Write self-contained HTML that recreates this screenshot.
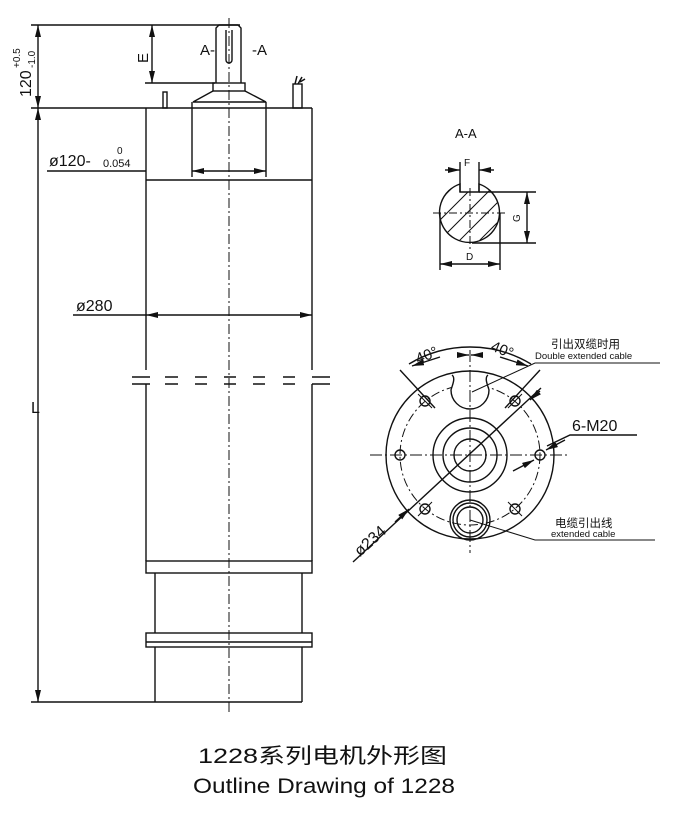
<!DOCTYPE html>
<html><head><meta charset="utf-8"><style>
html,body{margin:0;padding:0;background:#fff;}
svg{display:block;}
text{font-family:"Liberation Sans","Noto Sans CJK SC",sans-serif;fill:#111;}
</style></head><body>
<svg width="678" height="818" viewBox="0 0 678 818" xmlns="http://www.w3.org/2000/svg">
<defs>
<marker id="ar" markerWidth="12" markerHeight="6" refX="12" refY="3" orient="auto" markerUnits="userSpaceOnUse"><path d="M0,0 L12,3 L0,6 z" fill="#111"/></marker>
<marker id="as" markerWidth="12" markerHeight="6" refX="0" refY="3" orient="auto" markerUnits="userSpaceOnUse"><path d="M12,0 L0,3 L12,6 z" fill="#111"/></marker>
<clipPath id="cc"><path d="M460,184 A30,30 0 1,0 479,184 L479,192 L460,192 Z"/></clipPath>
</defs>
<g stroke="#111" stroke-width="1.4" fill="none">
<line x1="31" y1="25" x2="240" y2="25"/>
<line x1="31" y1="108" x2="146" y2="108"/>
<line x1="38" y1="25" x2="38" y2="108" marker-start="url(#as)" marker-end="url(#ar)"/>
<line x1="38" y1="108" x2="38" y2="702" marker-start="url(#as)" marker-end="url(#ar)"/>
<line x1="31" y1="702" x2="302" y2="702"/>
<line x1="145" y1="83" x2="215" y2="83"/>
<line x1="152" y1="25" x2="152" y2="83" marker-start="url(#as)" marker-end="url(#ar)"/>
<path d="M216,83 L216,28 L219,25 L238,25 L241,28 L241,83"/>
<path d="M226,30 L226,60 M232,30 L232,60 M226,60 A3,3 0 0,0 232,60"/>
<rect x="213" y="83" width="32" height="8"/>
<path d="M213,91 L193,102 L266,102 L245,91"/>
<line x1="192" y1="102" x2="192" y2="177"/>
<line x1="266" y1="102" x2="266" y2="177"/>
<line x1="47" y1="171" x2="146" y2="171"/>
<line x1="192" y1="171" x2="266" y2="171" marker-start="url(#as)" marker-end="url(#ar)"/>
<rect x="163" y="92" width="4" height="16"/>
<rect x="293" y="84" width="9" height="24"/>
<path d="M295,84 L297,76 M298,84 L302,77 M300,82 L305,79" stroke-width="1.5"/>
<line x1="146" y1="108" x2="312" y2="108"/>
<line x1="146" y1="180" x2="312" y2="180"/>
<line x1="146" y1="108" x2="146" y2="370"/>
<line x1="312" y1="108" x2="312" y2="370"/>
<line x1="146" y1="384" x2="146" y2="561"/>
<line x1="312" y1="384" x2="312" y2="561"/>
<line x1="73" y1="315" x2="146" y2="315"/>
<line x1="146" y1="315" x2="312" y2="315" marker-start="url(#as)" marker-end="url(#ar)"/>
<path d="M132,377 H150 M132,384 H150 M165,377 H178 M165,384 H178 M195,377 H207 M195,384 H207 M224,377 H236 M224,384 H236 M253,377 H265 M253,384 H265 M283,377 H295 M283,384 H295 M312,377 H330 M312,384 H330"/>
<rect x="146" y="561" width="166" height="12"/>
<line x1="155" y1="573" x2="155" y2="633"/>
<line x1="302" y1="573" x2="302" y2="633"/>
<rect x="146" y="633" width="166" height="14"/>
<line x1="146" y1="642" x2="312" y2="642"/>
<line x1="155" y1="647" x2="155" y2="702"/>
<line x1="302" y1="647" x2="302" y2="702"/>
<line x1="229" y1="18" x2="229" y2="715" stroke-dasharray="10,3,2,3" stroke-width="1"/>

<path d="M460,184 A30,30 0 1,0 479,184 L479,192 L460,192 Z"/>
<g clip-path="url(#cc)" stroke-width="1">
<path d="M420,240 L480,180 M430,250 L490,190 M440,260 L500,200 M450,270 L510,210 M460,280 L520,220 M410,230 L470,170 M400,220 L460,160"/>
</g>
<line x1="433" y1="213" x2="507" y2="213" stroke-dasharray="8,3,2,3" stroke-width="1"/>
<line x1="470" y1="188" x2="470" y2="250" stroke-dasharray="8,3,2,3" stroke-width="1"/>
<line x1="460" y1="162" x2="460" y2="192"/>
<line x1="479" y1="162" x2="479" y2="192"/>
<line x1="445" y1="170" x2="460" y2="170" marker-end="url(#ar)"/>
<line x1="494" y1="170" x2="479" y2="170" marker-end="url(#ar)"/>
<line x1="479" y1="192" x2="536" y2="192"/>
<line x1="472" y1="243" x2="536" y2="243"/>
<line x1="527" y1="192" x2="527" y2="243" marker-start="url(#as)" marker-end="url(#ar)"/>
<line x1="440" y1="213" x2="440" y2="270"/>
<line x1="500" y1="213" x2="500" y2="270"/>
<line x1="440" y1="264" x2="500" y2="264" marker-start="url(#as)" marker-end="url(#ar)"/>

<circle cx="470" cy="455" r="84"/>
<circle cx="470" cy="455" r="70" stroke-dasharray="9,3,2,3" stroke-width="1"/>
<circle cx="470" cy="455" r="37"/>
<circle cx="470" cy="455" r="27"/>
<circle cx="470" cy="455" r="16"/>
<path d="M452,375 C456,378 452,386 451,390 A19,19 0 0,0 489,390 C488,386 484,378 488,375" fill="#fff"/>
<circle cx="470" cy="520" r="20"/>
<circle cx="470" cy="520" r="17"/>
<circle cx="470" cy="520" r="13"/>
<line x1="370" y1="455" x2="570" y2="455" stroke-dasharray="12,3,2,3" stroke-width="1"/>
<line x1="470" y1="350" x2="470" y2="553" stroke-dasharray="12,3,2,3" stroke-width="1"/>
<circle cx="400" cy="455" r="5"/>
<circle cx="540" cy="455" r="5"/>
<circle cx="425" cy="401" r="5"/>
<circle cx="515" cy="401" r="5"/>
<circle cx="425" cy="509" r="5"/>
<circle cx="515" cy="509" r="5"/>
<path d="M418,394 L432,408 M508,408 L522,394 M418,516 L432,502 M508,502 L522,516" stroke-width="1"/>
<path d="M409,364 A118,118 0 0,1 531,364"/>
<line x1="400" y1="370" x2="435" y2="408"/>
<line x1="540" y1="370" x2="505" y2="408"/>
<line x1="440" y1="357" x2="412" y2="366" marker-end="url(#ar)"/>
<line x1="500" y1="357" x2="528" y2="366" marker-end="url(#ar)"/>
<line x1="458" y1="355" x2="469" y2="355" marker-end="url(#ar)"/>
<line x1="482" y1="355" x2="471" y2="355" marker-end="url(#ar)"/>
<line x1="353" y1="562" x2="541" y2="388"/>
<line x1="395" y1="522" x2="409" y2="509" marker-end="url(#ar)"/>
<line x1="540" y1="391" x2="530" y2="400" marker-end="url(#ar)"/>
<line x1="513" y1="471" x2="534" y2="460" marker-end="url(#ar)"/>
<path d="M547,446 L570,435 L637,435"/>
<line x1="565" y1="440" x2="546" y2="450" marker-end="url(#ar)"/>
<path d="M472,392 L535,363 L660,363" stroke-width="1"/>
<path d="M470,520 L535,540 L655,540" stroke-width="1"/>
</g>
<text x="200" y="55" font-size="15">A-</text>
<text x="252" y="55" font-size="15">-A</text>
<text transform="translate(148,63) rotate(-90)" font-size="15">E</text>
<text transform="translate(31,97) rotate(-90)" font-size="16">120</text>
<text transform="translate(20,68) rotate(-90)" font-size="10">+0.5</text>
<text transform="translate(35,68) rotate(-90)" font-size="10">-1.0</text>
<text x="49" y="166" font-size="16">ø120-</text>
<text x="117" y="154" font-size="10">0</text>
<text x="103" y="167" font-size="11">0.054</text>
<text x="76" y="311" font-size="16">ø280</text>
<text x="31" y="413" font-size="16">L</text>
<text x="455" y="138" font-size="13">A-A</text>
<text x="464" y="166" font-size="10">F</text>
<text transform="translate(520,222) rotate(-90)" font-size="10">G</text>
<text x="466" y="260" font-size="10">D</text>
<text transform="translate(418,364) rotate(-22)" font-size="15">40°</text>
<text transform="translate(490,350) rotate(22)" font-size="15">40°</text>
<text transform="translate(360,557) rotate(-42)" font-size="16">ø234</text>
<text x="572" y="431" font-size="16">6-M20</text>
<text x="551" y="348" font-size="11.5">引出双缆时用</text>
<text x="535" y="359" font-size="9.5">Double extended cable</text>
<text x="555" y="527" font-size="11.5">电缆引出线</text>
<text x="551" y="537" font-size="9.5">extended cable</text>
<text x="198" y="763" font-size="21" textLength="249" lengthAdjust="spacingAndGlyphs">1228系列电机外形图</text>
<text x="193" y="793" font-size="21" textLength="262" lengthAdjust="spacingAndGlyphs">Outline Drawing of 1228</text>
</svg>
</body></html>
